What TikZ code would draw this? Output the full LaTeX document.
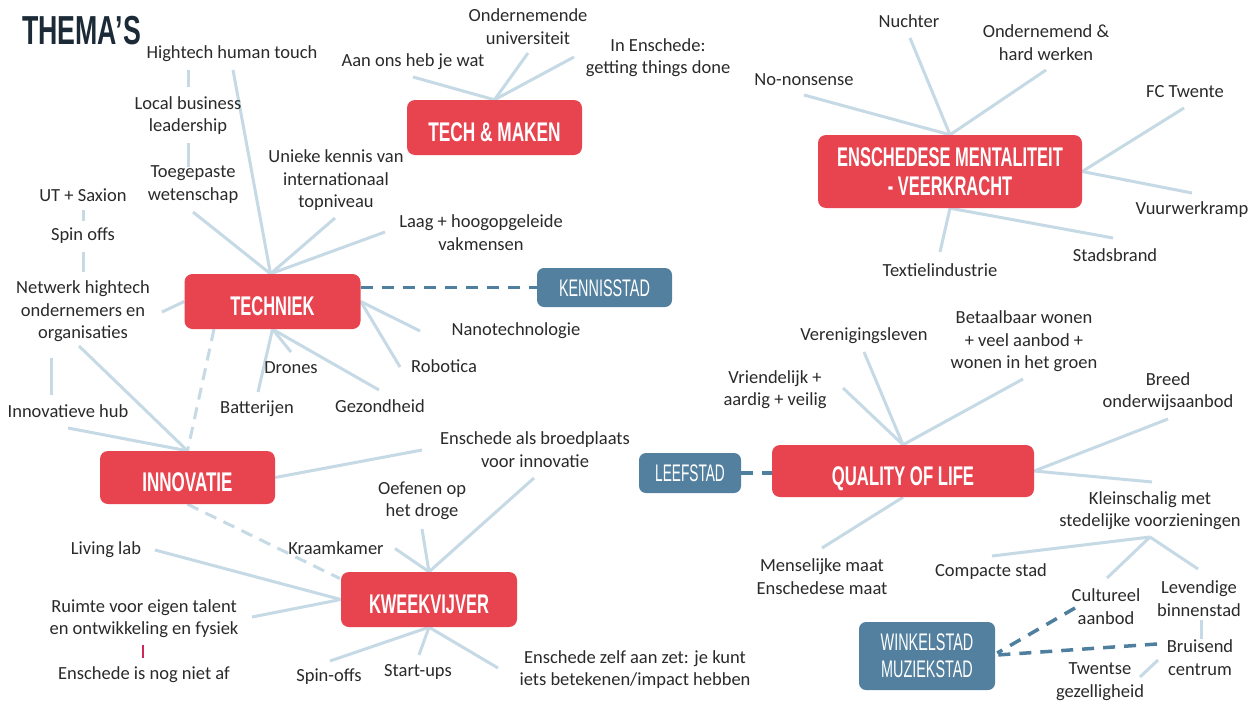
\documentclass[tikz,border=0pt]{standalone}
\usepackage{graphicx}
\usepackage{fontspec}
\setmainfont{Carlito}
\newfontfamily\hfont{Liberation Sans}
\usetikzlibrary{calc}
\definecolor{boxred}{HTML}{E8444F}
\definecolor{boxblue}{HTML}{52809E}
\definecolor{linec}{HTML}{C6DAE6}
\definecolor{dashb}{HTML}{4F7F9E}
\definecolor{titlec}{HTML}{1C2A38}
\definecolor{txt}{HTML}{2A2A2A}
\definecolor{tickc}{HTML}{D0285A}
\newcommand\sq[2][0.62]{\scalebox{#1}[1]{#2}}
\pgfdeclarelayer{background}
\pgfsetlayers{background,main}
\begin{document}
\begin{tikzpicture}[x=1pt,y=-1pt,
  lab/.style={font=\fontsize{18.5}{22.5}\selectfont, text=txt, align=center, inner sep=0pt},
  redbox/.style={fill=boxred, rounded corners=8pt, inner sep=0pt, text=white, font=\hfont\bfseries\fontsize{27}{29}\selectfont, align=center},
  red1/.style={redbox, text height=28.3pt, text depth=0pt},
  bluebox/.style={fill=boxblue, rounded corners=7pt, inner sep=0pt, text=white, font=\hfont\fontsize{24}{27}\selectfont, align=center},
  blue1/.style={bluebox, text height=17.2pt, text depth=0pt},
  conn/.style={draw=linec, line width=3pt},
  dconn/.style={draw=linec, line width=3pt, dash pattern=on 12pt off 8pt},
  bconn/.style={draw=dashb, line width=3.5pt, dash pattern=on 12pt off 9pt},
]
\useasboundingbox (0,0) rectangle (1260,704);

% title
\node[font=\hfont\bfseries\fontsize{40.5}{44}\selectfont, text=titlec, anchor=west, inner sep=0pt, text height=29pt, text depth=0pt] (title) at (22,29.5) {\sq[0.66]{THEMA’S}};

% theme boxes
\node[red1, minimum width=175pt, minimum height=55pt] (techmaken) at (494.5,127.5) {\sq[0.64]{TECH \& MAKEN}};
\node[red1, minimum width=176pt, minimum height=55pt] (tech) at (272.5,301.5) {\sq[0.61]{TECHNIEK}};
\node[red1, minimum width=175pt, minimum height=53pt] (innov) at (187.5,477.5) {\sq[0.63]{INNOVATIE}};
\node[red1, minimum width=176pt, minimum height=55pt] (kweek) at (429,599.5) {\sq[0.61]{KWEEKVIJVER}};
\node[redbox, minimum width=264pt, minimum height=73pt] (mental) at (950,171.5) {\sq[0.61]{ENSCHEDESE MENTALITEIT}\\\sq[0.61]{- VEERKRACHT}};
\node[red1, minimum width=262pt, minimum height=52pt] (qol) at (903,471) {\sq{QUALITY OF LIFE}};
\node[blue1, minimum width=135pt, minimum height=39pt] (kennis) at (604.5,287.5) {\sq[0.6]{KENNISSTAD}};
\node[blue1, minimum width=102pt, minimum height=40pt] (leef) at (690,473) {\sq[0.57]{LEEFSTAD}};
\node[bluebox, minimum width=136pt, minimum height=68pt] (winkel) at (927,656) {\sq[0.6]{WINKELSTAD}\\\sq[0.6]{MUZIEKSTAD}};

% labels
\node[lab] (hht) at (232,54) {Hightech human touch};
\node[lab] (lbl) at (188,115.5) {Local business\\leadership};
\node[lab] (tw) at (193,184.5) {Toegepaste\\wetenschap};
\node[lab] (uts) at (83,195.5) {UT + Saxion};
\node[lab] (spo) at (83,236) {Spin offs};
\node[lab] (nwh) at (83,311.5) {Netwerk hightech\\ondernemers en\\organisaties};
\node[lab] (ihub) at (68,411) {Innovatieve hub};
\node[lab] (uk) at (336,180.5) {Unieke kennis van\\internationaal\\topniveau};
\node[lab] (laag) at (481,232.5) {Laag + hoogopgeleide\\vakmensen};
\node[lab] (aan) at (413,61.5) {Aan ons heb je wat};
\node[lab] (ondu) at (528,26.5) {Ondernemende\\universiteit};
\node[lab] (ine) at (658,57.5) {In Enschede:\\getting things done};
\node[lab] (nano) at (516,331) {Nanotechnologie};
\node[lab] (robo) at (444,366.5) {Robotica};
\node[lab] (dron) at (291,368) {Drones};
\node[lab] (batt) at (257,408.5) {Batterijen};
\node[lab] (gez) at (380,406.5) {Gezondheid};
\node[lab] (broed) at (535,449.5) {Enschede als broedplaats\\voor innovatie};
\node[lab] (oef) at (422,500.5) {Oefenen op\\het droge};
\node[lab] (kraam) at (336,548.5) {Kraamkamer};
\node[lab] (liv) at (106,550) {Living lab};
\node[lab] (ruim) at (144,618.5) {Ruimte voor eigen talent\\en ontwikkeling en fysiek};
\node[lab] (nogaf) at (144,675) {Enschede is nog niet af};
\node[lab] (spin2) at (329,676.5) {Spin-offs};
\node[lab] (start) at (418,671.5) {Start-ups};
\node[lab] (zelf) at (635,669.5) {Enschede zelf aan zet: je kunt\\iets betekenen/impact hebben};
\node[lab] (nuch) at (909,21.5) {Nuchter};
\node[lab] (ondw) at (1046,42.5) {Ondernemend \&\\hard werken};
\node[lab] (nons) at (804,79.5) {No-nonsense};
\node[lab] (fct) at (1185,92) {FC Twente};
\node[lab] (vuur) at (1192,210) {Vuurwerkramp};
\node[lab] (stad) at (1115,255) {Stadsbrand};
\node[lab] (texi) at (940,270) {Textielindustrie};
\node[lab] (ver) at (864,336) {Verenigingsleven};
\node[lab] (bet) at (1024,341.5) {Betaalbaar wonen\\+ veel aanbod +\\wonen in het groen};
\node[lab] (vri) at (775,389.5) {Vriendelijk +\\aardig + veilig};
\node[lab] (breed) at (1168,391.5) {Breed\\onderwijsaanbod};
\node[lab] (klein) at (1150,510.5) {Kleinschalig met\\stedelijke voorzieningen};
\node[lab] (mens) at (822,576.5) {Menselijke maat\\Enschedese maat};
\node[lab] (comp) at (991,572) {Compacte stad};
\node[lab] (cult) at (1106,606.5) {Cultureel\\aanbod};
\node[lab] (lev) at (1199,598.5) {Levendige\\binnenstad};
\node[lab] (brui) at (1200,657.5) {Bruisend\\centrum};
\node[lab] (twe) at (1100,681.5) {Twentse\\gezelligheid};
\coordinate (kj) at ($(klein)+(0,26.5)$);

\begin{pgfonlayer}{background}
\fill[white] (0,0) rectangle (1260,704);
% TECHNIEK
\draw[conn] ($(hht)+(1,16)$) -- ($(tech.north)+(-2,0)$);
\draw[conn] ($(tw)+(0,27.5)$) -- ($(tech.north)+(-2,0)$);
\draw[conn] ($(uk)+(-1,37.5)$) -- ($(tech.north)+(-2,0)$);
\draw[conn] ($(laag)+(-96,-0.5)$) -- ($(tech.north)+(-2,0)$);
\draw[conn] ($(nwh)+(79,0.5)$) -- (tech.west);
\draw[conn] ($(dron)+(0,-16)$) -- (tech.south);
\draw[conn] ($(batt)+(1,-16.5)$) -- (tech.south);
\draw[conn] ($(gez)+(-1,-16.5)$) -- (tech.south);
\draw[conn] ($(robo)+(-44,0.5)$) -- (tech.east);
\draw[conn] ($(nano)+(-96,0)$) -- (tech.east);
\draw[bconn] (tech.east |- kennis.west) -- (kennis.west);
\draw[dconn] ($(tech.south)+(-58.5,0)$) -- (innov.north);
% label chains
\draw[conn] ($(hht)+(-44,16)$) -- ($(lbl)+(0,-28.5)$);
\draw[conn] ($(lbl)+(0,27.5)$) -- ($(tw)+(-5,-17.5)$);
\draw[conn] ($(uts)+(0,14.5)$) -- ($(spo)+(0,-15)$);
\draw[conn] ($(spo)+(0,16)$) -- ($(nwh)+(0,-39.5)$);
\draw[conn] ($(nwh)+(-32,46.5)$) -- ($(ihub)+(-17,-16)$);
% INNOVATIE
\draw[conn] ($(ihub)+(0,17)$) -- (innov.north);
\draw[conn] ($(nwh)+(-4,34.5)$) -- (innov.north);
\draw[conn] (innov.east) -- ($(broed)+(-113,0.5)$);
\draw[dconn] (innov.south) -- ($(kweek.west)+(-1,-21)$);
% KWEEKVIJVER
\draw[conn] ($(kraam)+(59,0)$) -- (kweek.north);
\draw[conn] ($(oef)+(0,28.5)$) -- (kweek.north);
\draw[conn] ($(broed)+(-1,28.5)$) -- (kweek.north);
\draw[conn] ($(liv)+(49,0)$) -- (kweek.west);
\draw[conn] ($(ruim)+(108,-1.5)$) -- (kweek.west);
\draw[conn] ($(spin2)+(1,-15.5)$) -- (kweek.south);
\draw[conn] ($(start)+(1,-16.5)$) -- (kweek.south);
\draw[conn] ($(zelf)+(-137,-1.5)$) -- (kweek.south);
\draw[draw=tickc, line width=1.2pt] ($(ruim)+(-1,26.5)$) -- ($(nogaf)+(-1,-17)$);
% TECH & MAKEN
\draw[conn] ($(aan)+(0,15.5)$) -- (techmaken.north);
\draw[conn] ($(ondu)+(0,26.5)$) -- (techmaken.north);
\draw[conn] ($(ine)+(-84,-0.5)$) -- (techmaken.north);
% MENTALITEIT
\draw[conn] ($(nons)+(0,15.5)$) -- (mental.north);
\draw[conn] ($(nuch)+(1,16.5)$) -- (mental.north);
\draw[conn] ($(ondw)+(0,27.5)$) -- (mental.north);
\draw[conn] ($(fct)+(-1,16)$) -- (mental.east);
\draw[conn] ($(vuur)+(0,-17)$) -- (mental.east);
\draw[conn] ($(texi)+(0,-18)$) -- (mental.south);
\draw[conn] ($(stad)+(-2,-17)$) -- (mental.south);
% QUALITY OF LIFE
\draw[conn] ($(ver)+(0,16)$) -- (qol.north);
\draw[conn] ($(vri)+(68,-1.5)$) -- (qol.north);
\draw[conn] ($(bet)+(-1,37.5)$) -- (qol.north);
\draw[conn] ($(breed)+(0,27.5)$) -- (qol.east);
\draw[conn] ($(klein)+(2,-28.5)$) -- (qol.east);
\draw[conn] ($(mens)+(0,-28.5)$) -- (qol.south);
\draw[bconn] (leef.east) -- (leef.east -| qol.west);
% Kleinschalig
\draw[conn] ($(comp)+(1,-16)$) -- (kj);
\draw[conn] ($(cult)+(1,-28.5)$) -- (kj);
\draw[conn] ($(lev)+(-1,-29.5)$) -- (kj);
\draw[conn] ($(lev)+(2,21.5)$) -- ($(brui)+(1,-18.5)$);
\draw[conn] ($(brui)+(-42,2.5)$) -- ($(twe)+(40,-4.5)$);
\draw[bconn] ($(cult)+(-31,1.5)$) -- ($(winkel.east)+(2,-3)$);
\draw[bconn] ($(brui)+(-43,-13.5)$) -- ($(winkel.east)+(2,-1)$);
\end{pgfonlayer}
\end{tikzpicture}
\end{document}
